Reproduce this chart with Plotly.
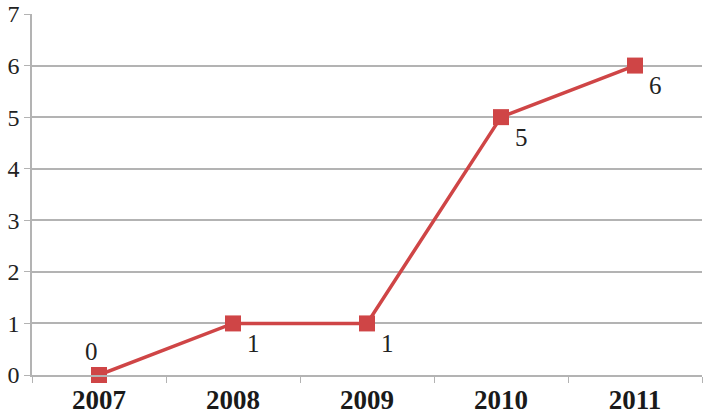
import plotly.graph_objects as go

years = ["2007", "2008", "2009", "2010", "2011"]
values = [0, 1, 1, 5, 6]
y_ticks = [0, 1, 2, 3, 4, 5, 6, 7]

red = "#cf4546"
grid = "#b3b3b3"
serif = "Liberation Serif, Times New Roman, serif"

fig = go.Figure()
fig.add_trace(go.Scatter(
    x=years, y=values, mode="lines+markers",
    line=dict(color=red, width=3.5),
    marker=dict(symbol="square", size=16, color=red),
    cliponaxis=False, showlegend=False,
))

for i, v in enumerate(values):
    if i == 0:
        xs, ys = -8, 24
    else:
        xs, ys = 20, -20
    fig.add_annotation(
        x=i, y=v, xref="x", yref="y", text=str(v), showarrow=False,
        xshift=xs, yshift=ys,
        font=dict(family=serif, size=25, color="#222222"),
    )

fig.update_layout(
    width=704, height=418,
    margin=dict(l=32, r=2, t=14, b=43, autoexpand=False),
    paper_bgcolor="white", plot_bgcolor="white",
    xaxis=dict(
        type="category", range=[-0.5, 4.5], automargin=False,
        showline=True, linecolor=grid, linewidth=1.5,
        ticks="outside", tickson="boundaries", ticklen=6, tickcolor=grid,
        showgrid=False,
        tickfont=dict(family=serif, size=27, color="#1a1a1a", weight="bold"),
    ),
    yaxis=dict(
        range=[0, 7], tickvals=y_ticks, automargin=False,
        showline=True, linecolor=grid, linewidth=1.5,
        ticks="outside", ticklen=6, tickcolor=grid,
        showgrid=True, gridcolor=grid, gridwidth=1.5,
        zeroline=False, ticklabeloverflow="allow",
        tickfont=dict(family=serif, size=24, color="#222222"),
    ),
)

fig.write_html("out.html")
